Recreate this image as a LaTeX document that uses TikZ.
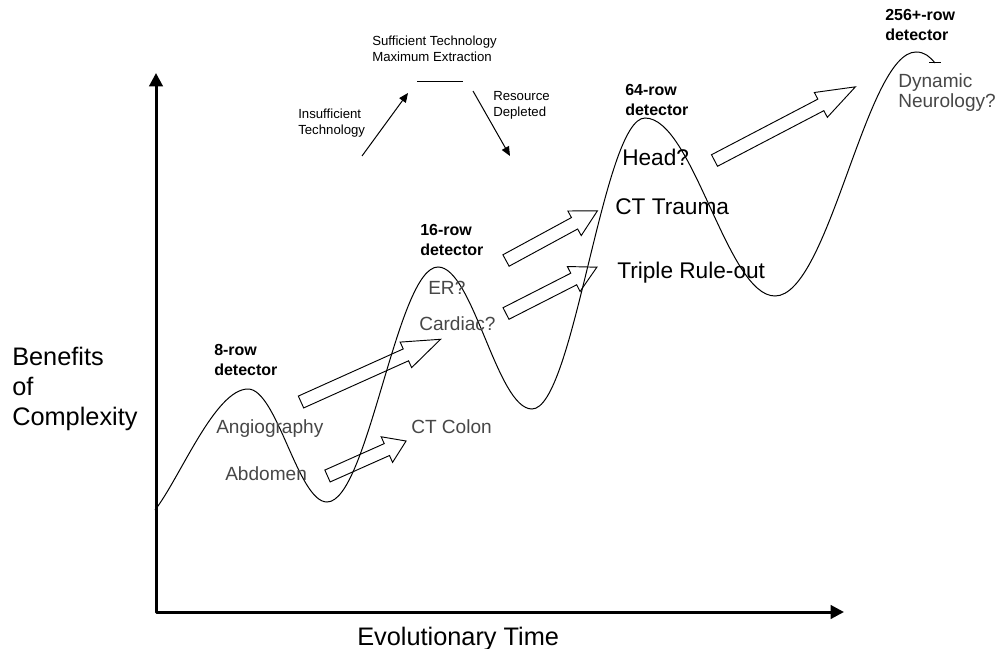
\documentclass[tikz,border=0pt]{standalone}
\usepackage{fontspec}
\setmainfont{Liberation Sans}
\usetikzlibrary{arrows.meta}
\newcommand\stk[1]{\begin{tabular}[t]{@{}l@{}}#1\end{tabular}}
\newcommand\hollowarrow[5]{%
  \begin{scope}[shift={(#1,#2)}, rotate=#3]
    \draw[blockarr] (0,-6.5) -- ({#4-#5},-6.5) -- ({#4-#5},-14) -- (#4,0)
      -- ({#4-#5},14) -- ({#4-#5},6.5) -- (0,6.5) -- cycle;
  \end{scope}}
\tikzset{
  axisline/.style={line width=2.25pt, line join=round},
  curveline/.style={line width=0.75pt},
  blockarr/.style={draw=black, fill=white, line width=0.7pt, line join=miter},
  lbl/.style={anchor=base west, inner sep=0pt},
  bigtxt/.style={lbl, font=\fontsize{19}{22.5}\selectfont},
  medtxt/.style={lbl, font=\fontsize{17}{20}\selectfont},
  greytxt/.style={lbl, text=black!72, font=\fontsize{14.3}{14.4}\selectfont},
  dettxt/.style={lbl, font=\bfseries\fontsize{12}{15}\selectfont},
  smalltxt/.style={lbl, font=\fontsize{9.9}{11.4}\selectfont},
  thinarrow/.style={line width=0.75pt, -{Triangle[length=7pt,width=6pt]}},
}
\begin{document}
\begin{tikzpicture}[x=0.75pt, y=-0.75pt]
\useasboundingbox (0,0) rectangle (995,649);

% block arrows
\hollowarrow{301}{402}{24.2}{153}{38}
\hollowarrow{327.5}{476}{24}{86}{21}
\hollowarrow{506}{260.5}{28.5}{104}{26}
\hollowarrow{506}{313.5}{27}{102}{26}
\hollowarrow{714.5}{160.5}{27.6}{159}{39}

% curve
\draw[curveline] (155,510) .. controls (180,478) and (215,389) .. (248,389)
  .. controls (277,389) and (298,502) .. (327,502)
  .. controls (368,502) and (397,267) .. (438,267)
  .. controls (473,267) and (497,409) .. (532,409)
  .. controls (574,409) and (603,118) .. (645,118)
  .. controls (693,118) and (727,296) .. (775,296)
  .. controls (829,296) and (866,52) .. (916,52)
  .. controls (925,52) and (930,57) .. (935,63);
\draw[curveline] (929,63) -- (941,63);

% axes
\coordinate (ytop) at (156,73);
\coordinate (origin) at (156,612);
\coordinate (xend) at (844,612);
\draw[axisline, {Triangle[length=10pt,width=10pt]}-{Triangle[length=10pt,width=10pt]}] (ytop) -- (origin) -- (xend);

% top cycle
\coordinate (ins0) at (362,156);
\coordinate (ins1) at (408,93);
\coordinate (dep0) at (473,91);
\coordinate (dep1) at (510,156);
\coordinate (plat0) at (417,82);
\coordinate (plat1) at (463,82);
\draw[thinarrow] (ins0) -- (ins1);
\draw[thinarrow] (dep0) -- (dep1);
\draw[line width=0.75pt] (plat0) -- (plat1);

% labels
\node[bigtxt] (benefits) at (12,365) {\stk{Benefits\\of\\Complexity}};
\node[bigtxt] (time) at (357,645) {Evolutionary Time};
\node[greytxt] (angio) at (216,433) {Angiography};
\node[greytxt] (abdomen) at (225,480) {Abdomen};
\node[greytxt] (colon) at (411,433) {CT Colon};
\node[greytxt] (er) at (428,294) {ER?};
\node[greytxt] (cardiac) at (419,330) {Cardiac?};
\node[greytxt] (neuro) at (898,88) {\stk{Dynamic\\Neurology?}};
\node[medtxt] (head) at (622,166) {Head?};
\node[medtxt] (trauma) at (615,214) {CT Trauma};
\node[medtxt] (triple) at (617,278) {Triple Rule-out};
\node[dettxt] (d8) at (214,355) {\stk{8-row\\detector}};
\node[dettxt] (d16) at (420,235) {\stk{16-row\\detector}};
\node[dettxt] (d64) at (625,96) {\stk{64-row\\detector}};
\node[dettxt] (d256) at (885,21) {\stk{256+-row\\detector}};
\node[smalltxt] (suff) at (372,46) {\stk{Sufficient Technology\\Maximum Extraction}};
\node[smalltxt] (insuff) at (298,119) {\stk{Insufficient\\Technology}};
\node[smalltxt] (depl) at (493,101) {\stk{Resource\\Depleted}};
\end{tikzpicture}
\end{document}
